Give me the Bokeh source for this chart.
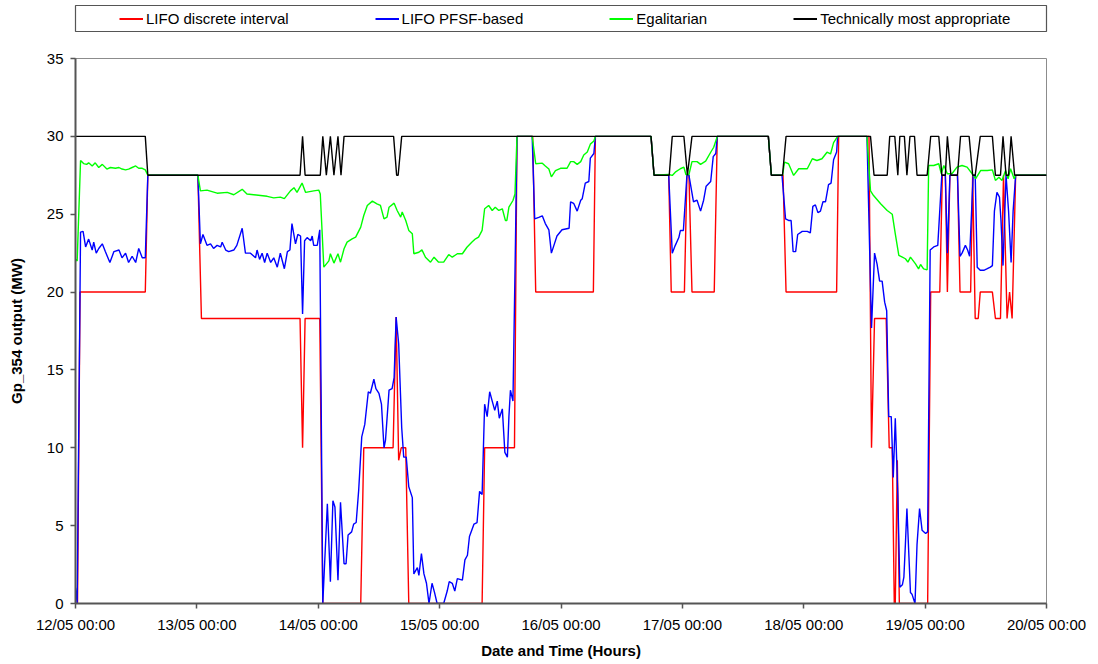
from bokeh.plotting import figure
from bokeh.layouts import column
from bokeh.models import FixedTicker, Legend, LegendItem, Range1d, ColumnDataSource
from bokeh.embed import file_html
from bokeh.resources import INLINE

# ---------------- data (time in hours from 12/05 00:00, output in MW) ----------------
tick_hours = [0, 24, 48, 72, 96, 120, 144, 168, 192]
tick_labels = ["12/05 00:00", "13/05 00:00", "14/05 00:00", "15/05 00:00", "16/05 00:00",
               "17/05 00:00", "18/05 00:00", "19/05 00:00", "20/05 00:00"]
y_ticks = [0, 5, 10, 15, 20, 25, 30, 35]

series_names = ["LIFO discrete interval", "LIFO PFSF-based", "Egalitarian", "Technically most appropriate"]
series_colors = ["#FF0000", "#0000FF", "#00FF00", "#000000"]

red_t = [0, 0.4, 0.9, 13.8, 14.3, 24.2, 24.9, 44.4, 44.9, 45.4, 48.3, 48.9, 56.4, 57.0, 62.8, 63.4,
         63.9, 64.4, 65.3, 65.9, 80.4, 80.9, 86.8, 87.3, 90.4, 91.0, 102.4, 102.8, 113.8, 114.4,
         117.3, 117.8, 120.4, 120.9, 121.3, 121.9, 126.3, 126.9, 137.0, 137.6, 139.9, 140.5, 150.5,
         150.9, 156.9, 157.4, 158.0, 160.3, 160.9, 161.5, 161.9, 162.1, 162.5, 162.9, 168.5, 169.1,
         170.9, 171.4, 172.0, 172.4, 172.9, 174.4, 174.9, 177.0, 177.4, 177.9, 178.5, 178.9, 181.3,
         181.9, 182.9, 183.5, 184.2, 184.7, 185.2, 185.9, 192]
red_v = [0, 0, 20, 20, 27.5, 27.5, 18.3, 18.3, 10, 18.3, 18.3, 0, 0, 10, 10, 18.4,
         9.2, 10, 10, 0, 0, 10, 10, 30, 30, 20, 20, 30, 30, 27.5,
         27.5, 20, 20, 27.5, 27.5, 20, 20, 30, 30, 27.5, 27.5, 20, 20,
         30, 30, 10, 18.3, 18.3, 10, 10, 0, 0, 9.2, 0, 0, 20,
         20, 27.5, 27.5, 20, 27.5, 27.5, 20, 20, 27.5, 18.3, 18.3, 20, 20,
         18.3, 18.3, 27.5, 18.3, 20, 18.3, 27.5, 27.5]

blue_t = [0, 0.33, 1.0, 1.5, 2.0, 2.6, 3.3, 3.6, 4.1, 4.6, 5.3, 5.9, 6.8, 7.6, 8.6, 9.2, 9.9, 10.5,
          11.2, 11.9, 12.5, 13.2, 13.8, 14.3, 24.2, 24.7, 25.2, 26.0, 26.7, 27.3, 28.0, 28.7, 29.0,
          29.7, 30.3, 31.3, 31.9, 32.96, 33.6, 34.6, 35.6, 35.9, 36.4, 36.9, 37.4, 37.9, 38.6, 39.2,
          39.9, 40.5, 41.3, 41.9, 42.4, 42.8, 43.5, 43.96, 44.5, 44.9, 45.3, 45.8, 46.5, 46.8, 47.1,
          47.8, 48.3, 48.9, 49.8, 50.4, 50.9, 51.3, 51.9, 52.4, 53.1, 53.5, 53.9, 54.6, 55.0, 55.5,
          56.0, 56.6, 57.2, 57.9, 58.3, 59.0, 59.4, 60.0, 60.5, 61.0, 61.3, 62.0, 62.6, 63.0, 63.4,
          63.9, 64.5, 64.9, 65.4, 65.9, 66.6, 66.9, 67.6, 67.9, 68.4, 68.9, 69.4, 69.9, 70.5, 71.0,
          71.5, 72.8, 73.5, 73.9, 74.5, 75.0, 75.5, 76.5, 77.0, 77.5, 77.9, 78.8, 79.4, 79.9, 80.4,
          80.9, 81.4, 81.9, 82.4, 82.9, 83.4, 83.8, 84.4, 84.9, 85.4, 85.7, 86.0, 86.5, 87.0, 87.3,
          90.3, 90.8, 91.6, 92.3, 92.9, 93.6, 94.1, 94.6, 95.2, 96.2, 97.6, 97.9, 98.5, 99.2, 99.9,
          100.2, 100.8, 101.5, 101.8, 102.5, 102.8, 113.8, 114.4, 117.3, 118.0, 118.6, 119.3, 119.6,
          120.2, 120.9, 121.3, 122.2, 122.9, 123.6, 124.2, 124.7, 125.6, 126.1, 126.6, 126.9, 137.0,
          137.6, 139.7, 140.4, 141.0, 141.5, 141.9, 142.4, 142.8, 143.7, 144.7, 145.3, 145.8, 146.3,
          146.8, 147.3, 147.8, 148.3, 148.9, 149.4, 149.9, 150.5, 150.7, 156.5, 157.4, 158.0, 158.5,
          159.0, 159.5, 160.0, 160.4, 160.8, 161.3, 161.7, 162.1, 162.6, 163.0, 163.5, 163.8, 164.1,
          164.4, 164.8, 165.1, 165.4, 166.0, 166.4, 166.9, 167.4, 168.1, 168.5, 169.0, 169.7, 170.5,
          171.3, 172.0, 172.4, 172.9, 174.4, 174.9, 175.3, 175.96, 176.4, 176.8, 177.5, 177.9, 178.3,
          178.9, 179.6, 180.3, 180.9, 181.3, 181.7, 182.2, 182.7, 183.0, 183.4, 184.0, 184.5, 185.0,
          185.4, 185.9, 192]
blue_v = [1.0, 0, 23.85, 23.9, 22.9, 23.4, 22.7, 23.2, 22.5, 22.8, 23.1, 22.6, 21.9, 22.6, 22.7, 22.2, 22.5, 21.9,
          22.3, 21.9, 22.8, 22.2, 22.2, 27.5, 27.5, 23.1, 23.7, 23.0, 23.1, 22.8, 23.0, 22.9, 23.2,
          22.7, 22.6, 22.7, 23.0, 24.1, 22.5, 22.5, 22.2, 22.7, 22.1, 22.5, 21.9, 22.5, 21.9, 22.2,
          21.6, 22.5, 21.5, 22.6, 22.7, 24.4, 23.1, 23.7, 23.6, 18.6, 23.3, 23.5, 23.3, 23.6, 23.0,
          23.0, 24.0, 0, 6.4, 1.4, 6.6, 6.2, 1.5, 6.5, 2.55, 2.55, 4.4, 4.6, 5.1, 5.2,
          7.3, 10.7, 11.5, 13.6, 13.5, 14.4, 13.8, 13.5, 12.8, 10.0, 10.5, 13.7, 13.8, 14.5, 18.4,
          16.7, 11.3, 9.4, 9.4, 7.5, 6.8, 1.9, 2.3, 1.8, 3.2, 1.9, 1.3, 0, 1.3, 0.7,
          0, 0, 0.8, 1.4, 1.3, 0.8, 1.6, 1.5, 2.8, 3.1, 4.3, 5.1, 5.2, 7.2, 7.0,
          12.8, 12.0, 13.6, 13.0, 12.4, 13.0, 11.9, 12.5, 9.7, 9.4, 12.0, 13.7, 13.0, 23.3, 30,
          30, 24.7, 24.8, 24.9, 24.4, 24.0, 22.5, 23.0, 23.6, 24.0, 24.1, 25.8, 25.7, 25.2, 25.9,
          26.0, 27.0, 27.1, 28.6, 28.9, 30, 30, 27.5, 27.5, 22.5, 23.0, 23.5, 23.95,
          23.95, 27.5, 27.5, 25.8, 25.9, 25.2, 25.9, 26.8, 27.1, 28.7, 28.9, 30, 30,
          27.5, 27.5, 24.7, 24.6, 24.6, 22.6, 22.6, 23.7, 23.9, 23.9, 23.8, 25.5, 25.6,
          25.1, 25.2, 25.8, 25.8, 26.9, 27.0, 28.5, 29.0, 30, 30, 17.7, 22.5, 21.8,
          20.7, 20.7, 19.35, 18.8, 12.0, 12.0, 8.1, 11.9, 7.0, 1.05, 1.2, 1.7, 3.8,
          6.1, 3.0, 0.7, 0.6, 0, 3.8, 6.1, 4.7, 4.5, 4.6, 22.7, 22.9, 23.0,
          27.5, 27.5, 22.5, 27.5, 27.5, 22.3, 22.5, 23.0, 22.7, 22.3, 27.5, 27.5, 21.6,
          21.4, 21.4, 21.5, 21.6, 21.7, 25.2, 26.4, 26.1, 24.6, 21.7, 27.5, 25.2, 21.9,
          25.2, 27.5, 27.5]

green_t = [0, 0.33, 1.0, 1.6, 2.2, 2.6, 3.3, 3.9, 4.6, 5.3, 6.2, 6.9, 7.9, 8.6, 9.2, 9.9, 10.5, 11.2,
           11.9, 12.5, 13.2, 13.8, 14.3, 24.2, 24.7, 26.0, 28.0, 30.0, 31.3, 32.96, 33.9, 36.6, 37.9,
           39.2, 40.5, 41.3, 42.5, 43.2, 43.8, 44.8, 45.5, 47.1, 48.1, 48.4, 49.1, 50.1, 50.4, 51.1,
           51.9, 52.4, 53.1, 53.7, 54.7, 55.4, 56.4, 57.0, 57.7, 58.7, 59.6, 60.3, 61.0, 61.6, 62.0,
           63.0, 63.6, 64.3, 64.6, 65.3, 65.9, 66.6, 66.9, 67.9, 68.5, 69.2, 70.2, 70.9, 71.8, 72.8,
           73.8, 74.5, 75.5, 76.5, 77.4, 78.4, 79.1, 79.7, 80.4, 80.9, 81.7, 82.4, 83.0, 83.7, 84.4,
           85.0, 85.3, 85.7, 86.5, 86.9, 87.3, 90.3, 91.0, 92.3, 92.9, 93.6, 94.1, 94.9, 95.9, 97.2,
           97.9, 98.5, 99.2, 99.9, 100.5, 101.2, 101.8, 102.5, 102.8, 113.8, 114.4, 117.3, 118.0,
           118.6, 119.6, 120.3, 120.7, 121.3, 121.9, 122.9, 123.6, 124.6, 125.6, 126.2, 126.9, 137.0,
           137.6, 139.8, 140.2, 141.0, 142.0, 143.0, 144.7, 145.7, 146.6, 147.6, 148.6, 149.3, 149.9,
           150.7, 156.5, 157.2, 157.8, 159.2, 160.5, 161.5, 162.1, 162.8, 163.5, 164.1, 164.6, 165.1,
           166.1, 166.7, 167.1, 167.7, 168.4, 168.7, 169.7, 170.7, 171.2, 171.7, 172.4, 173.3, 174.3,
           175.3, 176.3, 177.3, 178.0, 179.0, 180.3, 181.3, 181.9, 182.6, 183.2, 183.9, 184.4, 184.9,
           185.6, 185.9, 192]
green_v = [22.1, 22.0, 28.45, 28.25, 28.2, 28.3, 28.1, 28.3, 28.0, 28.2, 27.9, 28.0, 27.95, 28.0, 27.9, 27.85, 27.9, 28.0,
           28.1, 27.95, 27.95, 27.85, 27.5, 27.5, 26.5, 26.55, 26.35, 26.4, 26.25, 26.6, 26.3, 26.2, 26.15,
           26.05, 26.1, 26.0, 26.5, 26.7, 26.4, 27.0, 26.4, 26.5, 26.55, 26.3, 21.6, 22.0, 22.46, 21.86,
           22.46, 21.92, 22.78, 23.21, 23.42, 23.53, 24.17, 24.92, 25.56, 25.84, 25.67, 25.56, 24.7, 24.81, 25.45,
           25.71, 25.24, 24.81, 25.14, 24.6, 23.96, 23.75, 22.46, 22.56, 22.71, 22.24, 21.92, 22.24, 21.92, 21.92,
           22.41, 22.24, 22.46, 22.46, 22.88, 23.21, 23.42, 23.53, 23.96, 25.35, 25.56, 25.24, 25.45, 25.24, 25.35,
           24.6, 24.6, 25.45, 25.88, 26.3, 30, 30, 28.24, 28.28, 28.1, 27.9, 27.4, 27.8, 27.95, 27.95,
           28.38, 28.38, 28.2, 28.38, 28.8, 29.0, 29.5, 29.7, 30, 30, 27.5, 27.55, 27.49,
           27.7, 27.92, 28.02, 27.55, 27.55, 28.38, 28.38, 28.2, 28.41, 28.98, 29.3, 30, 30,
           27.5, 27.5, 28.35, 28.24, 27.49, 27.92, 27.92, 28.56, 28.45, 28.56, 28.98, 28.87, 29.6,
           30, 30, 26.5, 26.2, 25.67, 25.24, 25.0, 23.74, 22.35, 22.24, 22.14, 21.92, 22.24,
           21.81, 21.49, 21.77, 21.49, 21.43, 28.13, 28.13, 28.24, 27.6, 28.13, 27.6, 27.6, 28.02,
           28.13, 28.02, 27.6, 27.28, 27.81, 27.81, 27.85, 27.17, 27.38, 27.17, 27.81, 27.28, 27.92,
           27.28, 27.5, 27.5]

black_t = [0, 13.8, 14.3, 44.4, 44.9, 45.4, 48.4, 48.9, 49.6, 50.4, 51.1, 51.9, 52.5, 53.1, 62.9, 63.5,
           63.8, 64.5, 113.8, 114.4, 117.4, 118.0, 120.3, 121.0, 121.9, 137.0, 137.6, 139.8, 140.5,
           157.2, 157.9, 160.5, 161.0, 162.0, 162.6, 163.0, 163.9, 164.4, 165.0, 165.9, 166.4, 168.4,
           169.1, 170.7, 171.3, 172.0, 172.4, 173.1, 174.4, 175.0, 176.7, 177.4, 177.9, 178.9, 181.3,
           181.9, 182.9, 183.4, 184.0, 184.5, 185.0, 185.7, 192]
black_v = [30, 30, 27.5, 27.5, 30, 27.5, 27.5, 30, 27.5, 30, 27.5, 30, 27.5, 30, 30, 27.5,
           27.5, 30, 30, 27.5, 27.5, 30, 30, 27.5, 30, 30, 27.5, 27.5, 30,
           30, 27.5, 27.5, 30, 30, 27.5, 30, 30, 27.5, 30, 30, 27.5, 27.5,
           30, 30, 27.5, 27.5, 30, 27.5, 27.5, 30, 30, 27.5, 27.5, 30, 30,
           27.5, 27.5, 30, 27.5, 27.5, 30, 27.5, 27.5]

series_t = [red_t, blue_t, green_t, black_t]
series_v = [red_v, blue_v, green_v, black_v]

FONT = "Liberation Sans"
LINE_W = 1.4

# ---------------- main chart ----------------
p = figure(width=1098, height=628, output_backend="svg", toolbar_location=None,
           x_range=Range1d(0, 192), y_range=Range1d(0, 35),
           min_border_left=75, min_border_right=52, min_border_top=22, min_border_bottom=61)
p.xgrid.visible = False
p.ygrid.visible = False
p.outline_line_color = "#8c8c8c"
p.outline_line_width = 1
p.background_fill_color = "white"
p.border_fill_color = "white"

for t, v, col in zip(series_t, series_v, series_colors):
    p.line("t", "v", source=ColumnDataSource(dict(t=t, v=v)), line_color=col, line_width=LINE_W)

for ax in (p.xaxis[0], p.yaxis[0]):
    ax.axis_line_color = "#555555"
    ax.axis_line_width = 2
    ax.major_tick_line_color = "#555555"
    ax.major_tick_line_width = 1.5
    ax.major_tick_in = 0
    ax.major_tick_out = 5
    ax.minor_tick_line_color = None
    ax.major_label_text_font = FONT
    ax.major_label_text_font_size = "15px"
    ax.major_label_text_color = "black"
    ax.axis_label_text_font = FONT
    ax.axis_label_text_font_size = "15px"
    ax.axis_label_text_font_style = "bold"
    ax.axis_label_text_color = "black"

p.xaxis.ticker = FixedTicker(ticks=tick_hours)
p.xaxis.major_label_overrides = {h: lbl for h, lbl in zip(tick_hours, tick_labels)}
p.xaxis.major_label_standoff = 7
p.xaxis.axis_label = "Date and Time (Hours)"
p.xaxis.axis_label_standoff = 6

p.yaxis.ticker = FixedTicker(ticks=y_ticks)
p.yaxis.major_label_standoff = 7
p.yaxis.axis_label = "Gp_354 output (MW)"
p.yaxis.axis_label_standoff = 19

# ---------------- legend strip (its frame outline is the legend box) ----------------
lg = figure(width=1098, height=36, output_backend="svg", toolbar_location=None,
            x_range=Range1d(1000, 1001), y_range=Range1d(1000, 1001),
            min_border_left=71, min_border_right=41, min_border_top=5, min_border_bottom=5)
lg.axis.visible = False
lg.xgrid.visible = False
lg.ygrid.visible = False
lg.outline_line_color = "#555555"
lg.outline_line_width = 1.2
# one-point lines (first value of each series) draw nothing; they only supply the key glyphs
key_renderers = [lg.line(x=[t[0]], y=[v[0]], line_color=col, line_width=LINE_W + 0.6)
                 for t, v, col in zip(series_t, series_v, series_colors)]
items = [LegendItem(label=n, renderers=[r]) for n, r in zip(series_names, key_renderers)]
legend = Legend(items=items, orientation="horizontal", location=(40, 0),
                spacing=86, padding=4, glyph_width=24, glyph_height=15, label_standoff=3,
                label_text_font=FONT, label_text_font_size="15px", label_text_color="black",
                border_line_alpha=0, background_fill_alpha=0, margin=0)
lg.add_layout(legend)

layout = column(lg, p, spacing=0)
open("out.html", "w").write(file_html(layout, INLINE))
